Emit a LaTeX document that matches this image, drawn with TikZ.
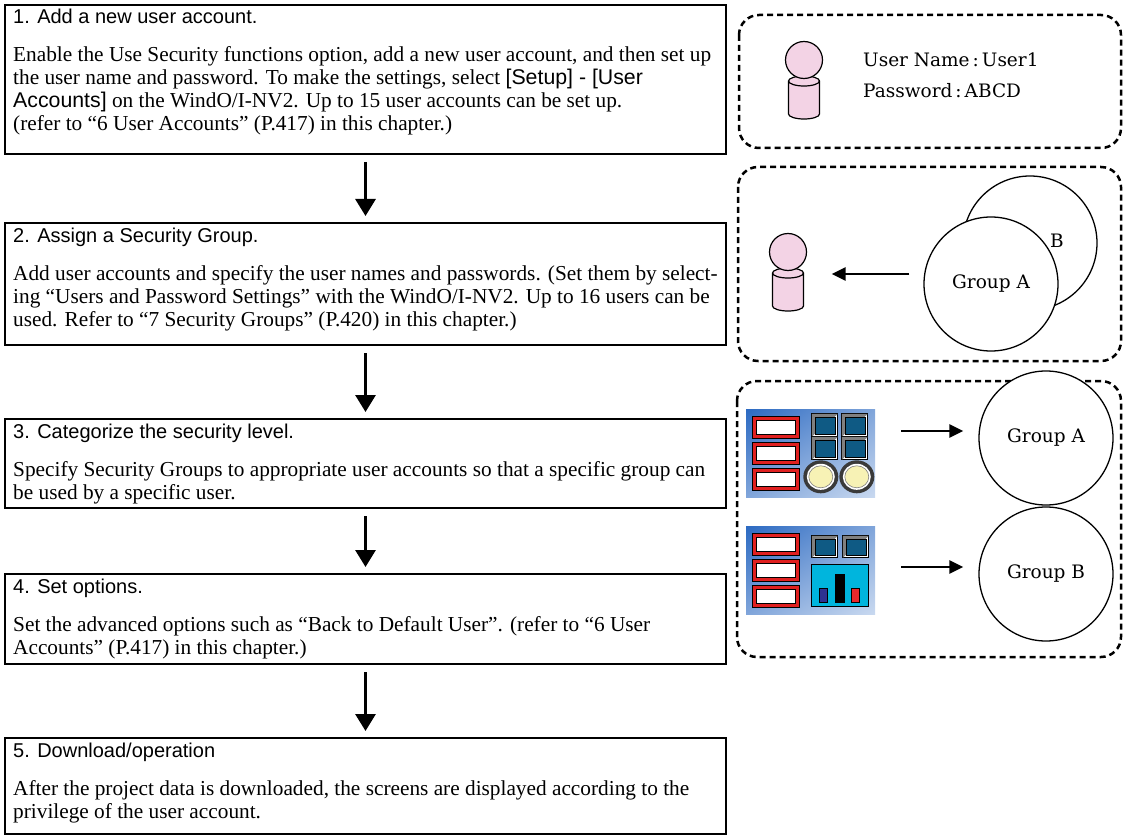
\documentclass[tikz,border=0pt]{standalone}
\usepackage{fontspec}
\usetikzlibrary{arrows.meta,positioning,shapes.geometric,shadings}

\newfontfamily\headfont{Liberation Sans}
\newfontfamily\bodyfont{Liberation Serif}
\newfontfamily\labelfont{DejaVu Serif}

\definecolor{userpink}{HTML}{F3D3E5}
\definecolor{framered}{HTML}{E02020}
\definecolor{btnblue}{HTML}{0F5A84}
\definecolor{lampyellow}{HTML}{F7F2B5}
\definecolor{lampring}{HTML}{3A3A3A}
\definecolor{meterbg}{HTML}{00B5DD}
\definecolor{barblue}{HTML}{2E3192}
\definecolor{barred}{HTML}{E8282B}
\definecolor{scrdark}{HTML}{2C6AC2}
\definecolor{scrmid}{HTML}{80A5DA}
\definecolor{scrlight}{HTML}{C9D9F0}

\tikzset{
  stepbox/.style={draw, line width=2pt, anchor=north west, inner sep=0pt},
  steptitle/.style={anchor=base west, inner sep=0pt, font=\headfont\fontsize{20}{23}\selectfont},
  steptext/.style={anchor=base west, inner sep=0pt, font=\bodyfont\fontsize{21.3}{23}\selectfont},
  nextstep/.style={line width=3pt, -{Triangle[length=17pt,width=20pt]}, shorten <=7pt, shorten >=6pt},
  panel/.style={draw, dash pattern=on 6pt off 4pt, line width=2.5pt, rounded corners=20pt},
  group/.style={circle, draw, line width=1.3pt, fill=white, minimum size=134pt, inner sep=0pt, font=\labelfont\fontsize{18.5}{22}\selectfont},
  label/.style={anchor=west, inner sep=0pt, font=\labelfont\fontsize{18.5}{22}\selectfont},
  link/.style={line width=2.5pt, -{Triangle[length=14pt,width=13pt]}},
  userline/.style={draw, line width=1.2pt, fill=userpink},
  screen/.style={rectangle, inner sep=0pt, minimum width=129pt, minimum height=88pt, shade,
    upper left=scrdark, upper right=scrmid, lower left=scrmid, lower right=scrlight},
  % small user figure: head plus cylinder body
  user/.pic={
    \draw[userline] (-15.5,21) -- (-15.5,54) arc[start angle=180, end angle=360, x radius=15.5pt, y radius=5pt]
      -- (15.5,21) arc[start angle=0, end angle=180, x radius=15.5pt, y radius=5pt] -- cycle;
    \draw[line width=1.2pt] (-15.5,21) arc[start angle=180, end angle=360, x radius=15.5pt, y radius=5pt];
    \draw[userline] (0,0) circle[radius=18.5pt];
    \node[inner sep=0pt, minimum width=31pt, minimum height=40pt] (-body) at (0,38) {};
  }
}

\begin{document}
\begin{tikzpicture}[x=1pt, y=-1pt]
\useasboundingbox (0,0) rectangle (1124,837);

%%%%%%%%%%%%%%%%%%%%%%%%%%%%%%%%%%%%%%%%%%% steps
\node[stepbox, minimum width=721pt, minimum height=149pt] (s1) at (4,4) {};
\node[stepbox, minimum width=721pt, minimum height=122pt] (s2) at (4,222) {};
\node[stepbox, minimum width=721pt, minimum height=89pt] (s3) at (4,418) {};
\node[stepbox, minimum width=721pt, minimum height=90pt] (s4) at (4,573) {};
\node[stepbox, minimum width=721pt, minimum height=96pt] (s5) at (4,737) {};

\node[steptitle] (t1) at ([shift={(9,20)}]s1.north west) {1. Add a new user account.};
\node[steptext] (b1) at ([shift={(9,58)}]s1.north west) {\parbox[t]{712pt}{Enable the Use Security functions option, add a new user account, and then set up\\
the user name and password. To make the settings, select {\headfont [Setup] - [User}\\
{\headfont Accounts]} on the WindO/I-NV2. Up to 15 user accounts can be set up.\\
(refer to “6 User Accounts” (P.417) in this chapter.)}};

\node[steptitle] (t2) at ([shift={(9,20)}]s2.north west) {2. Assign a Security Group.};
\node[steptext] (b2) at ([shift={(9,58)}]s2.north west) {\parbox[t]{712pt}{Add user accounts and specify the user names and passwords. (Set them by select-\\
ing “Users and Password Settings” with the WindO/I-NV2. Up to 16 users can be\\
used. Refer to “7 Security Groups” (P.420) in this chapter.)}};

\node[steptitle] (t3) at ([shift={(9,20)}]s3.north west) {3. Categorize the security level.};
\node[steptext] (b3) at ([shift={(9,58)}]s3.north west) {\parbox[t]{712pt}{Specify Security Groups to appropriate user accounts so that a specific group can\\
be used by a specific user.}};

\node[steptitle] (t4) at ([shift={(9,20)}]s4.north west) {4. Set options.};
\node[steptext] (b4) at ([shift={(9,58)}]s4.north west) {\parbox[t]{712pt}{Set the advanced options such as “Back to Default User”. (refer to “6 User\\
Accounts” (P.417) in this chapter.)}};

\node[steptitle] (t5) at ([shift={(9,20)}]s5.north west) {5. Download/operation};
\node[steptext] (b5) at ([shift={(9,58)}]s5.north west) {\parbox[t]{712pt}{After the project data is downloaded, the screens are displayed according to the\\
privilege of the user account.}};

\draw[nextstep] (s1.south) -- (s2.north);
\draw[nextstep] (s2.south) -- (s3.north);
\draw[nextstep] (s3.south) -- (s4.north);
\draw[nextstep] (s4.south) -- (s5.north);

%%%%%%%%%%%%%%%%%%%%%%%%%%%%%%%%%%%%%%%%%%% account
\draw[panel] (739,15) rectangle (1121,148);
\pic (u1) at (804,60) {user};
\node[label] (uname) at (863,60) {User Name\hspace{3pt}:\hspace{3pt}User1};
\node[label] (upass) at (863,91) {Password\hspace{3pt}:\hspace{3pt}ABCD};

%%%%%%%%%%%%%%%%%%%%%%%%%%%%%%%%%%%%%%%%%%% group assignment
\draw[panel] (738,167) rectangle (1121,361);
\pic (u2) at (788,252) {user};
\node[group] (grB2) at (1030,243) {};
\node[group] (grA2) at (991,284) {Group A};
\node[label] (lblB) at (1050,241) {B};
\draw[link] ([shift={(-14,-10)}]grA2.west) -- ([shift={(28,-16)}]u2-body.east);

%%%%%%%%%%%%%%%%%%%%%%%%%%%%%%%%%%%%%%%%%%% screens per group
\draw[panel] (737,381) rectangle (1121,657);
\node[screen] (scr1) at (810.5,453) {};
\node[screen] (scr2) at (810.5,570) {};
\node[group] (grA3) at (1046,438) {Group A};
\node[group] (grB3) at (1046,574) {Group B};

% switch screen
\begin{scope}[shift={(scr1.north west)}]
  \foreach \r in {0,1,2}{
    \draw[line width=1pt, fill=framered] (7,8+26*\r) rectangle (54,30+26*\r);
    \draw[line width=0.8pt, fill=white] (11,12+26*\r) rectangle (50,26+26*\r);
  }
  \foreach \c in {0,1}{
    \foreach \r in {0,1}{
      \draw[line width=1pt, fill=white] (66+30*\c,5+23*\r) rectangle (92+30*\c,28+23*\r);
      \fill[gray] (66+30*\c,5+23*\r) -- (92+30*\c,5+23*\r) -- (89+30*\c,8+23*\r) -- (69+30*\c,8+23*\r) -- (69+30*\c,25+23*\r) -- (66+30*\c,28+23*\r) -- cycle;
      \draw[line width=0.6pt, fill=btnblue] (69+30*\c,8+23*\r) rectangle (89+30*\c,25+23*\r);
    }
    \fill[lampring] (75+36*\c,68) ellipse[x radius=17.5, y radius=16.5];
    \fill[white] (75+36*\c,68) ellipse[x radius=14, y radius=13];
    \draw[gray, line width=0.6pt, fill=lampyellow] (75+36*\c,68) ellipse[x radius=12, y radius=11];
  }
\end{scope}

% meter screen
\begin{scope}[shift={(scr2.north west)}]
  \foreach \r in {0,1,2}{
    \draw[line width=1pt, fill=framered] (7,8+26*\r) rectangle (54,30+26*\r);
    \draw[line width=0.8pt, fill=white] (11,12+26*\r) rectangle (50,26+26*\r);
  }
  \foreach \c in {0,1}{
    \draw[line width=1pt, fill=white] (66+31*\c,10) rectangle (92+31*\c,32);
    \fill[gray] (66+31*\c,10) -- (92+31*\c,10) -- (89+31*\c,13) -- (69+31*\c,13) -- (69+31*\c,29) -- (66+31*\c,32) -- cycle;
    \draw[line width=0.6pt, fill=btnblue] (69+31*\c,13) rectangle (89+31*\c,29);
  }
  \draw[line width=1pt, fill=meterbg] (66,39) rectangle (123,81);
  \draw[line width=0.8pt, fill=barblue] (74,63) rectangle (82,77);
  \draw[line width=0.8pt, fill=black] (90,49) rectangle (99,77);
  \draw[line width=0.8pt, fill=barred] (106,63) rectangle (114,77);
\end{scope}

\draw[link] ([shift={(26,-22)}]scr1.east) -- ([shift={(-15,-7)}]grA3.west);
\draw[link] ([shift={(26,-3)}]scr2.east) -- ([shift={(-15,-7)}]grB3.west);

\end{tikzpicture}
\end{document}
